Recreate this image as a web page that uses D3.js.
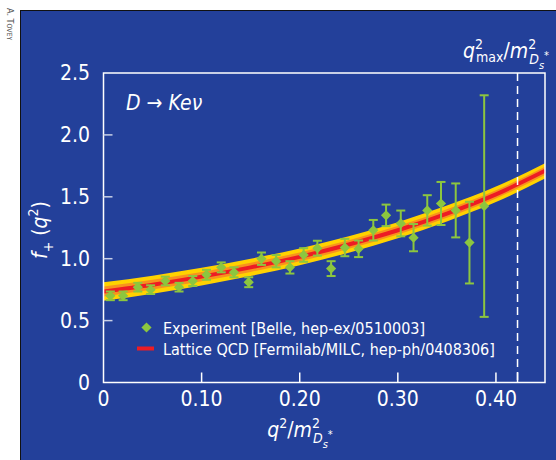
<!DOCTYPE html>
<html>
<head>
<meta charset="utf-8">
<script src="https://cdn.jsdelivr.net/npm/d3@7"></script>
<style>
  body { margin: 0; background: #fff; }
  text { font-family: "Liberation Sans Narrow", "DejaVu Sans Condensed", "Roboto", sans-serif; fill: #fff; }
</style>
</head>
<body>
<div id="chart"></div>
<script>
// measured points (Belle)
var expQ   = [0.007, 0.020, 0.035, 0.048, 0.063, 0.077, 0.091, 0.105, 0.120, 0.133, 0.148,
              0.161, 0.176, 0.190, 0.204, 0.218, 0.232, 0.246, 0.260, 0.275, 0.288,
              0.303, 0.316, 0.330, 0.344, 0.359, 0.373, 0.388];
var expF   = [0.70, 0.70, 0.77, 0.75, 0.82, 0.77, 0.82, 0.87, 0.93, 0.89, 0.81,
              1.00, 0.98, 0.93, 1.03, 1.085, 0.92, 1.09, 1.08, 1.23, 1.35,
              1.285, 1.17, 1.39, 1.446, 1.39, 1.13, 1.425];
var expErr = [0.035, 0.035, 0.035, 0.035, 0.035, 0.035, 0.04, 0.04, 0.04, 0.04, 0.04,
              0.05, 0.05, 0.05, 0.055, 0.06, 0.06, 0.07, 0.067, 0.083, 0.087,
              0.104, 0.11, 0.123, 0.174, 0.218, 0.33, 0.895];

// lattice band (Fermilab/MILC)
var latQ    = [0, 0.05, 0.10, 0.15, 0.20, 0.25, 0.30, 0.35, 0.40, 0.45];
var latF    = [0.735, 0.79, 0.855, 0.93, 1.015, 1.115, 1.23, 1.365, 1.52, 1.71];
var latOut  = [0.075, 0.073, 0.071, 0.07, 0.068, 0.066, 0.065, 0.064, 0.063, 0.062];
var latIn   = [0.04, 0.039, 0.038, 0.037, 0.036, 0.035, 0.034, 0.034, 0.033, 0.033];

var xTicks = [0.10, 0.20, 0.30, 0.40];
var xTickLabels = ["0.10", "0.20", "0.30", "0.40"];
var yTicks = [0, 0.5, 1.0, 1.5, 2.0, 2.5];
var qmax = 0.422;

var W = 556, H = 460;
var svg = d3.select("#chart").append("svg").attr("width", W).attr("height", H);

// blue panel
svg.append("rect").attr("x", 20).attr("y", 10).attr("width", W - 20).attr("height", H - 10)
  .attr("fill", "#23409a");
svg.append("line").attr("x1", 20.5).attr("x2", 20.5).attr("y1", 10).attr("y2", H).attr("stroke", "#111").attr("stroke-width", 1);
svg.append("line").attr("x1", 20).attr("x2", W).attr("y1", 10.5).attr("y2", 10.5).attr("stroke", "#111").attr("stroke-width", 1);

// credit
var cr = svg.append("text").attr("transform", "translate(6.5,8) rotate(90)")
  .style("fill", "#555").style("font-family", "DejaVu Sans Condensed, DejaVu Sans").style("font-size", "9px");
cr.append("tspan").text("A. T");
cr.append("tspan").style("font-size", "7px").text("OVEY");

var pLeft = 103.5, pRight = 545, pTop = 73, pBottom = 382.5;
var x = d3.scaleLinear().domain([0, 0.45]).range([pLeft, pRight]);
var y = d3.scaleLinear().domain([0, 2.5]).range([pBottom, pTop]);

var plot = svg.append("g");

// band
var idx = d3.range(latQ.length);
var curve = d3.curveMonotoneX;
var outer = d3.area().curve(curve).x(function(i){ return x(latQ[i]); })
  .y0(function(i){ return y(latF[i] - latOut[i]); }).y1(function(i){ return y(latF[i] + latOut[i]); });
var inner = d3.area().curve(curve).x(function(i){ return x(latQ[i]); })
  .y0(function(i){ return y(latF[i] - latIn[i]); }).y1(function(i){ return y(latF[i] + latIn[i]); });
var mid = d3.line().curve(curve).x(function(i){ return x(latQ[i]); }).y(function(i){ return y(latF[i]); });

plot.append("path").attr("d", outer(idx)).attr("fill", "#ffd200");
plot.append("path").attr("d", inner(idx)).attr("fill", "#f7931e");
plot.append("path").attr("d", mid(idx)).attr("fill", "none").attr("stroke", "#ed1c24").attr("stroke-width", 4);

// dashed q2max
plot.append("line").attr("x1", x(qmax)).attr("x2", x(qmax)).attr("y1", pTop).attr("y2", pBottom)
  .attr("stroke", "#fff").attr("stroke-width", 1.5).attr("stroke-dasharray", "8,5");

// error bars
var green = "#8cc63f";
var diamond = d3.symbol().type(d3.symbolSquare).size(52);
var pts = plot.selectAll(".pt").data(d3.range(expQ.length)).enter().append("g");
pts.append("line")
  .attr("x1", function(i){ return x(expQ[i]); }).attr("x2", function(i){ return x(expQ[i]); })
  .attr("y1", function(i){ return y(expF[i] - expErr[i]); }).attr("y2", function(i){ return y(expF[i] + expErr[i]); })
  .attr("stroke", green).attr("stroke-width", 2);
[-1, 1].forEach(function(s) {
  pts.append("line")
    .attr("x1", function(i){ return x(expQ[i]) - 4.5; }).attr("x2", function(i){ return x(expQ[i]) + 4.5; })
    .attr("y1", function(i){ return y(expF[i] + s * expErr[i]); }).attr("y2", function(i){ return y(expF[i] + s * expErr[i]); })
    .attr("stroke", green).attr("stroke-width", 2);
});
pts.append("path")
  .attr("d", diamond)
  .attr("transform", function(i){ return "translate(" + x(expQ[i]) + "," + y(expF[i]) + ") rotate(45)"; })
  .attr("fill", green);

// frame
svg.append("rect").attr("x", pLeft).attr("y", pTop).attr("width", pRight - pLeft).attr("height", pBottom - pTop)
  .attr("fill", "none").attr("stroke", "#fff").attr("stroke-width", 1.5);

// ticks
svg.selectAll(".yt").data(yTicks.slice(1, 5)).enter().append("line")
  .attr("x1", pLeft).attr("x2", pLeft + 9).attr("y1", function(d){ return y(d); }).attr("y2", function(d){ return y(d); })
  .attr("stroke", "#c8cfe6").attr("stroke-width", 1.5);
svg.selectAll(".xt").data(xTicks.concat([qmax])).enter().append("line")
  .attr("x1", function(d){ return x(d); }).attr("x2", function(d){ return x(d); })
  .attr("y1", pBottom).attr("y2", pBottom - 10)
  .attr("stroke", "#fff").attr("stroke-width", 1.5);

// tick labels
svg.selectAll(".yl").data(yTicks).enter().append("text")
  .attr("x", 90).attr("y", function(d){ return y(d) + 7; })
  .attr("text-anchor", "end").style("font-size", "21px")
  .text(function(d){ return d === 0 ? "0" : d.toFixed(1); });
svg.selectAll(".xl").data([0].concat(xTicks)).enter().append("text")
  .attr("x", function(d){ return x(d); }).attr("y", 406)
  .attr("text-anchor", "middle").style("font-size", "21px")
  .text(function(d, i){ return i === 0 ? "0" : xTickLabels[i - 1]; });

// axis titles
var xt = svg.append("text").attr("x", 300).attr("y", 437).attr("text-anchor", "middle")
  .style("font-size", "21px").style("font-style", "italic");
xt.append("tspan").text("q");
xt.append("tspan").attr("dy", -9).style("font-size", "14px").style("font-style", "normal").text("2");
xt.append("tspan").attr("dy", 9).style("font-style", "normal").text("/");
xt.append("tspan").text("m");
xt.append("tspan").attr("dy", -9).style("font-size", "14px").style("font-style", "normal").text("2");
xt.append("tspan").attr("dx", -7).attr("dy", 15).style("font-size", "14px").text("D");
xt.append("tspan").attr("dy", 5).style("font-size", "11px").text("s");
xt.append("tspan").attr("dy", -10).style("font-size", "11px").style("font-style", "normal").text("*");

var yt = svg.append("text").attr("transform", "translate(47,230) rotate(-90)").attr("text-anchor", "middle")
  .style("font-size", "21px");
yt.append("tspan").style("font-style", "italic").text("f");
yt.append("tspan").attr("dy", 6).style("font-size", "14px").text("+");
yt.append("tspan").attr("dy", -6).text(" (");
yt.append("tspan").style("font-style", "italic").text("q");
yt.append("tspan").attr("dy", -9).style("font-size", "14px").text("2");
yt.append("tspan").attr("dy", 9).text(")");

var qt = svg.append("text").attr("x", 549).attr("y", 58).attr("text-anchor", "end")
  .style("font-size", "21px").style("font-style", "italic");
qt.append("tspan").text("q");
qt.append("tspan").attr("dy", -9).style("font-size", "14px").style("font-style", "normal").text("2");
qt.append("tspan").attr("dx", -7).attr("dy", 13).style("font-size", "14px").style("font-style", "normal").text("max");
qt.append("tspan").attr("dy", -4).style("font-style", "normal").text("/");
qt.append("tspan").text("m");
qt.append("tspan").attr("dy", -9).style("font-size", "14px").style("font-style", "normal").text("2");
qt.append("tspan").attr("dx", -7).attr("dy", 15).style("font-size", "14px").text("D");
qt.append("tspan").attr("dy", 5).style("font-size", "11px").text("s");
qt.append("tspan").attr("dy", -10).style("font-size", "11px").style("font-style", "normal").text("*");

// process label
svg.append("text").attr("x", 126).attr("y", 110).style("font-size", "21px").style("font-style", "italic")
  .text("D \u2192 Ke\u03bd");

// legend
svg.append("path").attr("d", diamond)
  .attr("transform", "translate(146.5,327.5) rotate(45)").attr("fill", green);
svg.append("text").attr("x", 163).attr("y", 333.5).style("font-size", "16px")
  .text("Experiment [Belle, hep-ex/0510003]");
svg.append("line").attr("x1", 137).attr("x2", 154).attr("y1", 348.5).attr("y2", 348.5)
  .attr("stroke", "#ed1c24").attr("stroke-width", 4);
svg.append("text").attr("x", 163).attr("y", 354.5).style("font-size", "16px")
  .text("Lattice QCD [Fermilab/MILC, hep-ph/0408306]");
</script>
</body>
</html>
